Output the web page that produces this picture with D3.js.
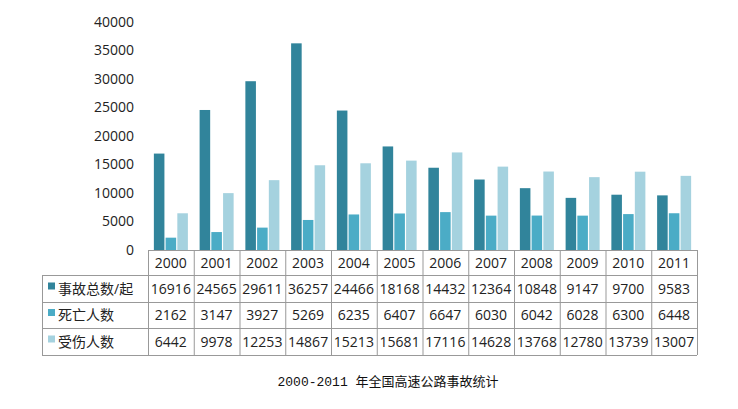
<!DOCTYPE html><html><head><meta charset="utf-8"><script src="https://cdn.jsdelivr.net/npm/d3@7"></script>
<style>body{margin:0;background:#fff}</style></head><body><svg id="c" width="738" height="409"></svg>
<script>
const years=["2000","2001","2002","2003","2004","2005","2006","2007","2008","2009","2010","2011"];
const seriesNames=["事故总数/起","死亡人数","受伤人数"];
const accidents=[16916,24565,29611,36257,24466,18168,14432,12364,10848,9147,9700,9583];
const deaths=[2162,3147,3927,5269,6235,6407,6647,6030,6042,6028,6300,6448];
const injured=[6442,9978,12253,14867,15213,15681,17116,14628,13768,12780,13739,13007];
const yTicks=[0,5000,10000,15000,20000,25000,30000,35000,40000];
const colors=["#31849b","#4bacc6","#a5d2df"];
const data=[accidents,deaths,injured];
const svg=d3.select("#c");
const font="'Open Sans','Noto Sans CJK SC',sans-serif";
const x=d3.scaleBand().domain(years).range([148,697]);
const y=d3.scaleLinear().domain([0,40000]).range([250,22]);
const xs=d3.scaleBand().domain([0,1,2]).range([0,x.bandwidth()]).paddingInner(0.1).paddingOuter(0.5);
data.forEach((arr,si)=>{
 svg.selectAll(null).data(arr).enter().append("rect")
  .attr("x",(d,i)=>x(years[i])+xs(si)).attr("width",xs.bandwidth())
  .attr("y",d=>y(d)).attr("height",d=>y(0)-y(d)).attr("fill",colors[si]);
});
const ya=svg.append("g").attr("transform","translate(148,0)").call(d3.axisLeft(y).tickValues(yTicks).tickFormat(d3.format("d")).tickSize(0).tickPadding(14));
ya.select(".domain").remove();
ya.selectAll("text").attr("font-family",font).attr("font-size",14).attr("fill","#222");
const rows=[250,275,302,328,355];
const g=svg.append("g").attr("stroke","#999").attr("stroke-width",1);
g.append("line").attr("x1",148).attr("x2",697).attr("y1",250.5).attr("y2",250.5);
for(let r=1;r<rows.length;r++)g.append("line").attr("x1",42).attr("x2",697).attr("y1",rows[r]+.5).attr("y2",rows[r]+.5);
years.concat(["end"]).forEach((yr,i)=>{const xx=i<12?x(yr):697;g.append("line").attr("x1",xx+.5).attr("x2",xx+.5).attr("y1",250).attr("y2",355);});
g.append("line").attr("x1",42.5).attr("x2",42.5).attr("y1",275).attr("y2",355);
svg.selectAll(null).data(years).enter().append("text").attr("x",d=>x(d)+x.bandwidth()/2).attr("y",(rows[0]+rows[1])/2+5)
 .attr("text-anchor","middle").attr("font-family",font).attr("font-size",14).attr("fill","#222").text(d=>d);
data.forEach((arr,si)=>{
 const cy=(rows[si+1]+rows[si+2])/2+5;
 svg.append("rect").attr("x",48).attr("y",cy-11).attr("width",7).attr("height",7).attr("fill",colors[si]);
 svg.append("text").attr("x",58).attr("y",cy).attr("font-family",font).attr("font-size",14).attr("fill","#222").text(seriesNames[si]);
 svg.selectAll(null).data(arr).enter().append("text").attr("x",(d,i)=>x(years[i])+x.bandwidth()/2).attr("y",cy)
  .attr("text-anchor","middle").attr("font-family",font).attr("font-size",14).attr("fill","#222").text(d=>d);
});
svg.append("text").attr("x",388).attr("y",386).attr("text-anchor","middle").attr("font-family","'Liberation Mono','Noto Sans CJK SC',monospace").attr("font-size",13).attr("fill","#111").text("2000-2011 年全国高速公路事故统计");
</script></body></html>
